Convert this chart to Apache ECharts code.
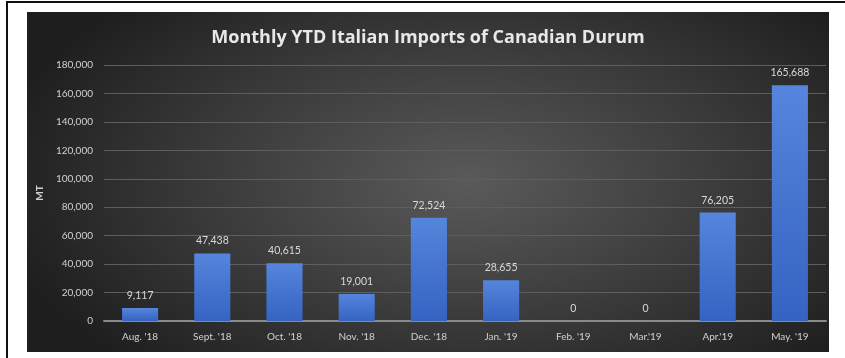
<!DOCTYPE html>
<html>
<head>
<meta charset="utf-8">
<script src="https://cdn.jsdelivr.net/npm/echarts@6/dist/echarts.min.js"></script>
<style>
  html, body { margin: 0; padding: 0; background: #fff; }
  #frame { position: absolute; left: 6px; top: 1px; width: 845px; height: 360px;
           border-top: 2px solid #111; border-left: 2px solid #111; }
  #main { position: absolute; left: 27px; top: 12px; width: 802px; height: 340px;
          background: radial-gradient(ellipse 60% 75% at 55% 50%, #5a5a5a 0%, #3a3a3a 55%, #1e1e1e 100%); }
</style>
</head>
<body>
<div id="frame"></div>
<div id="main"></div>
<script>
// 数据
var months = ["Aug. '18", "Sept. '18", "Oct. '18", "Nov. '18", "Dec. '18", "Jan. '19", "Feb. '19", "Mar.'19", "Apr.'19", "May. '19"];
var imports = [9117, 47438, 40615, 19001, 72524, 28655, 0, 0, 76205, 165688];

var container = document.getElementById("main");
var myChart = echarts.init(container);

myChart.setOption({
  animation: false,
  title: {
    text: "Monthly YTD Italian Imports of Canadian Durum",
    left: "center",
    top: 12,
    textStyle: {
      color: "#e8e8e8",
      fontSize: 18,
      fontWeight: "bold",
      fontFamily: "Open Sans"
    }
  },
  grid: {
    top: 53,
    left: 77,
    right: 3,
    bottom: 31
  },
  xAxis: {
    type: "category",
    data: months,
    axisTick: { show: false },
    axisLine: { lineStyle: { color: "#8a8a8a", width: 2 } },
    axisLabel: { color: "#d0d0d0", fontSize: 10, fontFamily: "Lato", margin: 11 }
  },
  yAxis: {
    type: "value",
    min: 0,
    max: 180000,
    interval: 20000,
    name: "MT",
    nameLocation: "middle",
    nameGap: 50,
    nameTextStyle: { color: "#d0d0d0", fontSize: 10, fontWeight: "bold", fontFamily: "Lato" },
    axisLabel: {
      color: "#d0d0d0",
      fontSize: 10,
      fontFamily: "Lato",
      margin: 11,
      formatter: function (v) { return v.toLocaleString("en-US"); }
    },
    splitLine: { lineStyle: { color: "#5e5e5e", width: 1 } }
  },
  series: [
    {
      type: "bar",
      data: imports,
      barWidth: "50%",
      itemStyle: {
        color: new echarts.graphic.LinearGradient(0, 0, 0, 1, [
          { offset: 0, color: "#5585dc" },
          { offset: 1, color: "#3563c2" }
        ])
      },
      label: {
        show: true,
        position: "top",
        distance: 7,
        color: "#d8d8d8",
        fontSize: 10.5,
        fontFamily: "Lato",
        formatter: function (p) { return p.value.toLocaleString("en-US"); }
      }
    }
  ]
});

let resizeObserver = new ResizeObserver(() => myChart?.resize());
resizeObserver.observe(container);
</script>
</body>
</html>
